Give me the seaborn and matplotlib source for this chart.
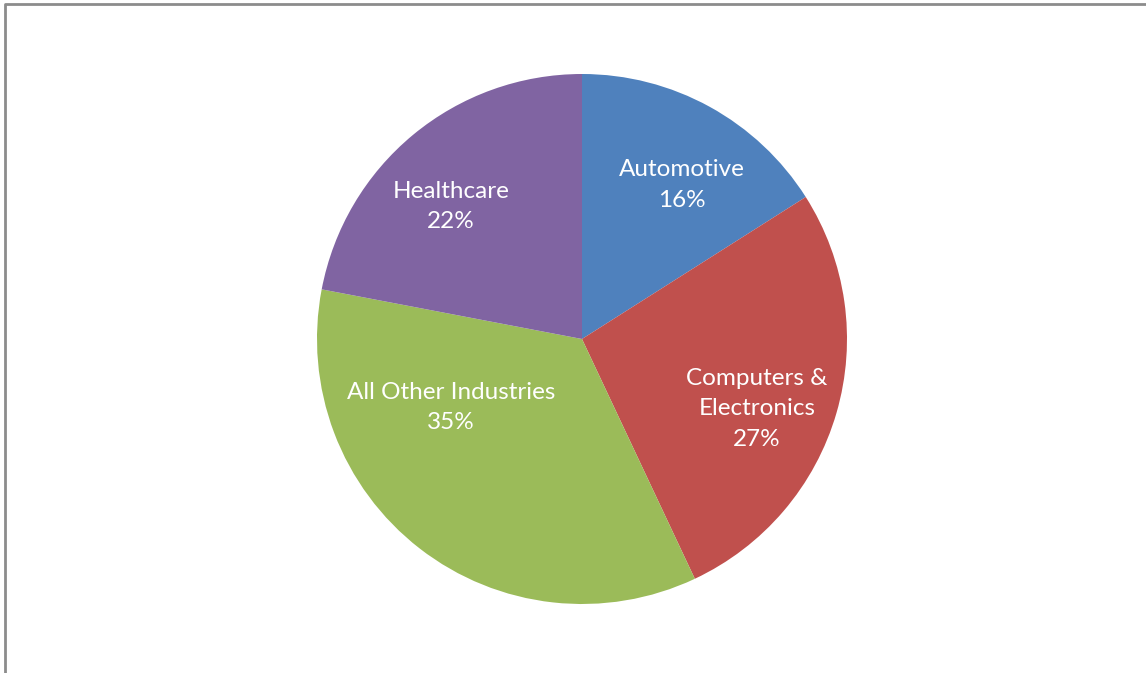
import matplotlib
matplotlib.use("Agg")
import matplotlib.pyplot as plt
import seaborn as sns

# Share of total by industry (percent)
categories = ["Automotive", "Computers &\nElectronics", "All Other Industries", "Healthcare"]
shares = [16, 27, 35, 22]
colors = ["#4F81BD", "#C0504D", "#9BBB59", "#8064A2"]

sns.set_theme(style="white")
plt.rcParams["font.family"] = ["Lato", "DejaVu Sans"]

W, H = 1146, 673
fig = plt.figure(figsize=(W / 100, H / 100), dpi=100)
ax = fig.add_axes([0, 0, 1, 1])

cx, cy, r = 582, H - 339, 265
ax.pie(
    shares, colors=colors, startangle=90, counterclock=False,
    center=(cx, cy), radius=r, frame=True,
    wedgeprops=dict(linewidth=0),
)
ax.set_xlim(0, W)
ax.set_ylim(0, H)
ax.set_aspect("equal")
ax.axis("off")

# label anchor offsets in units of the radius (best-fit placement)
label_offsets = [(0.377, 0.581), (0.66, -0.264), (-0.494, -0.258), (-0.494, 0.50)]
for name, val, (dx, dy) in zip(categories, shares, label_offsets):
    ax.text(cx + dx * r, cy + dy * r, f"{name}\n{val}%", ha="center", va="center",
            color="white", fontsize=17.5, linespacing=1.56)

# thin frame along the top and left edges
ax.plot([5, 5, W], [0, H - 4, H - 4], color="#8c8c8c", linewidth=2, clip_on=False)

fig.savefig("out.png", dpi=100, facecolor="white")
